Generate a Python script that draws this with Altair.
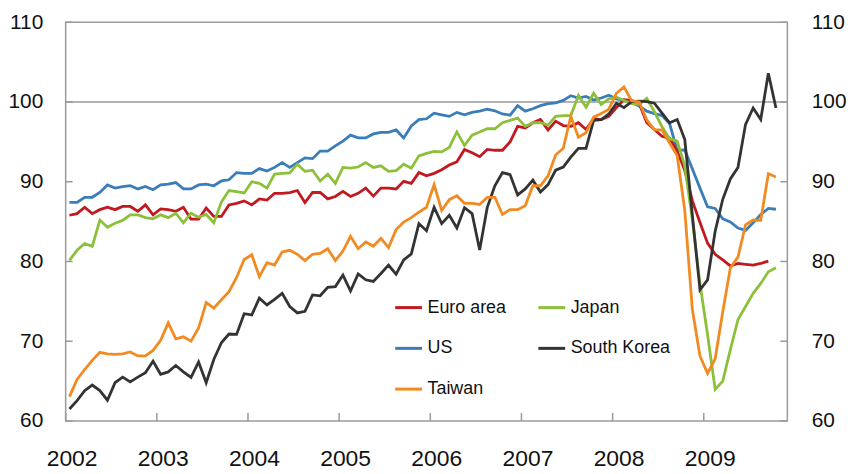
import altair as alt
import pandas as pd

# Monthly index values, Jan 2002 onwards
start_year = 2002

euro = [85.8, 86.0, 86.8, 86.0, 86.5, 86.8, 86.5, 86.9, 86.9, 86.3, 87.1, 85.85,
        86.6, 86.5, 86.3, 86.8, 85.3, 85.3, 86.7, 85.65, 85.65, 87.1, 87.3, 87.6,
        87.1, 87.85, 87.7, 88.55, 88.55, 88.65, 88.9, 87.4, 88.65, 88.65, 87.85, 88.15,
        88.8, 88.15, 88.55, 89.2, 88.2, 89.2, 89.2, 89.1, 90.05, 89.8, 91.15, 90.75,
        91.05, 91.5, 92.1, 92.5, 94.05, 93.65, 93.15, 94.05, 93.95, 93.95, 95.0, 96.95,
        96.75, 97.4, 97.8, 96.5, 97.6, 97.05, 96.95, 97.4, 96.55, 97.9, 97.8, 98.2,
        99.3, 100.3, 100.2, 99.8, 97.4, 96.55, 95.7, 95.45, 93.85, 91.4, 87.6, 84.9,
        82.3, 80.9, 80.2, 79.45, 79.75, 79.65, 79.55, 79.75, 80.05]

japan = [80.15, 81.4, 82.25, 81.9, 85.2, 84.3, 84.8, 85.15, 85.85, 85.85, 85.5, 85.35,
         85.85, 85.5, 86.05, 84.85, 86.05, 85.55, 85.9, 84.85, 87.45, 88.9, 88.75, 88.6,
         90.0, 89.8, 89.2, 90.95, 91.05, 91.1, 92.2, 91.3, 91.45, 90.1, 90.95, 89.8,
         91.8, 91.7, 91.85, 92.4, 91.8, 92.0, 91.3, 91.4, 92.2, 91.7, 93.25, 93.55,
         93.8, 93.75, 94.3, 96.25, 94.55, 95.85, 96.25, 96.65, 96.65, 97.4, 97.7, 98.0,
         96.95, 97.4, 97.4, 97.1, 98.2, 98.3, 98.3, 100.85, 99.35, 101.1, 99.7, 100.4,
         100.6, 100.2, 99.8, 99.7, 100.45, 98.8, 96.9, 95.4, 95.1, 92.0, 85.2, 77.2,
         70.8, 63.95, 65.0, 68.95, 72.7, 74.35, 76.0, 77.25, 78.7, 79.2]

us = [87.4, 87.4, 88.05, 88.05, 88.65, 89.6, 89.2, 89.4, 89.5, 89.1, 89.4, 89.0,
      89.6, 89.7, 89.9, 89.1, 89.1, 89.6, 89.7, 89.5, 90.1, 90.25, 91.15, 91.05,
      91.05, 91.65, 91.35, 91.8, 92.4, 91.8, 92.4, 93.0, 92.9, 93.85, 93.85, 94.5,
      95.1, 95.85, 95.5, 95.5, 96.0, 96.2, 96.2, 96.5, 95.5, 97.0, 97.8, 97.9,
      98.6, 98.4, 98.2, 98.7, 98.4, 98.7, 98.85, 99.1, 98.9, 98.5, 98.35, 99.55,
      98.85, 99.15, 99.55, 99.8, 99.9, 100.2, 100.8, 100.5, 100.7, 100.25, 100.5, 100.85,
      100.4, 100.2, 99.95, 99.5, 98.85, 98.55, 98.3, 97.3, 93.9, 94.0, 91.6, 89.2,
      86.85, 86.65, 85.35, 84.95, 84.2, 83.9, 84.85, 85.9, 86.65, 86.55]

korea = [61.5, 62.55, 63.8, 64.5, 63.8, 62.6, 64.8, 65.5, 64.9, 65.5, 66.05, 67.5,
         65.85, 66.15, 66.95, 66.15, 65.45, 67.4, 64.8, 67.7, 69.8, 70.9, 70.85, 73.45,
         73.3, 75.4, 74.55, 75.25, 76.0, 74.35, 73.55, 73.75, 75.8, 75.7, 76.75, 76.85,
         78.3, 76.3, 78.45, 77.7, 77.5, 78.5, 79.55, 78.4, 80.2, 80.95, 84.75, 83.85,
         86.8, 84.75, 85.8, 84.2, 86.75, 86.0, 81.45, 86.8, 89.5, 91.15, 90.9, 88.35,
         89.1, 90.2, 88.7, 89.65, 91.45, 91.85, 93.1, 94.2, 94.2, 97.7, 97.8, 98.5,
         99.85, 99.3, 100.05, 100.1, 100.05, 99.85, 98.6, 97.4, 97.8, 95.3, 85.8, 76.45,
         77.7, 83.8, 87.8, 90.35, 91.8, 97.2, 99.25, 97.8, 103.6, 99.25]

taiwan = [63.05, 65.2, 66.45, 67.6, 68.6, 68.4, 68.35, 68.4, 68.65, 68.15, 68.15, 68.85,
          70.1, 72.3, 70.3, 70.55, 70.0, 71.65, 74.85, 74.15, 75.2, 76.2, 78.0, 80.25,
          80.85, 78.1, 79.85, 79.55, 81.2, 81.4, 80.9, 80.1, 80.9, 81.0, 81.6, 80.1,
          81.3, 83.15, 81.6, 82.45, 81.9, 82.9, 81.75, 84.0, 84.95, 85.5, 86.2, 86.8,
          89.65, 86.4, 87.75, 88.25, 87.3, 87.3, 87.15, 88.05, 88.05, 85.9, 86.5, 86.5,
          87.0, 89.5, 89.5, 90.75, 93.35, 94.2, 98.2, 95.6, 96.15, 98.1, 98.55, 99.1,
          101.1, 101.9, 100.15, 100.0, 97.75, 96.5, 96.5, 94.85, 93.3, 86.4, 73.95, 68.15,
          65.95, 67.8, 73.7, 79.2, 80.55, 84.6, 85.2, 85.15, 91.0, 90.6]

legend_order = ["Euro area", "Japan", "US", "South Korea", "Taiwan"]
colors = ["#C1191F", "#8CC03A", "#3A7DB8", "#333333", "#F28A22"]
draw_order = ["US", "Euro area", "Japan", "South Korea", "Taiwan"]
series = {"Euro area": euro, "Japan": japan, "US": us,
          "South Korea": korea, "Taiwan": taiwan}

year_ticks = list(range(2002, 2010))
y_ticks = [60, 70, 80, 90, 100, 110]
ref_level = [100]

rows = []
for name in draw_order:
    for m, v in enumerate(series[name]):
        rows.append({"series": name, "t": start_year + (m + 0.5) / 12, "v": v})
df = pd.DataFrame(rows)

W, H = 726, 401
GRAY = "#9a9a9a"
FONT = "Liberation Sans"

xs = alt.Scale(domain=[2002, 2009.917], nice=False, zero=False)
ys = alt.Scale(domain=[60, 110], nice=False, zero=False)

x_axis = alt.Axis(values=year_ticks, format="d", labelFontSize=23,
                  labelPadding=27, tickOffset=6, labelFlush=False,
                  labelOverlap=False, ticks=False, domain=False,
                  grid=False, labelFont=FONT, labelColor="#111")

ref = alt.Chart(pd.DataFrame({"v": ref_level})).mark_rule(
    color=GRAY, strokeWidth=1.5
).encode(y=alt.Y("v:Q", scale=ys, axis=None))

lines = alt.Chart(df).mark_line(strokeWidth=2.8).encode(
    x=alt.X("t:Q", scale=xs, title=None, axis=x_axis),
    y=alt.Y("v:Q", scale=ys, title=None,
            axis=alt.Axis(values=y_ticks, orient="left", labelFontSize=21,
                          labelPadding=23, labelFlush=False, ticks=False,
                          domain=False, grid=False, labelFont=FONT,
                          labelColor="#111")),
    color=alt.Color("series:N",
                    scale=alt.Scale(domain=legend_order, range=colors),
                    legend=alt.Legend(title=None, orient="none", columns=2,
                                      direction="horizontal",
                                      legendX=330, legendY=272, padding=0,
                                      symbolType="stroke", symbolSize=729,
                                      symbolStrokeWidth=3, labelFontSize=18,
                                      labelFont=FONT, labelColor="#111",
                                      labelOffset=4, rowPadding=17,
                                      columnPadding=25)),
)

ticks_df = pd.DataFrame({"v": y_ticks})
left_ticks = alt.Chart(ticks_df).mark_rule(color=GRAY, strokeWidth=1.5).encode(
    y=alt.Y("v:Q", scale=ys, axis=None), x=alt.value(0), x2=alt.value(7))
right_ticks = alt.Chart(ticks_df).mark_rule(color=GRAY, strokeWidth=1.5).encode(
    y=alt.Y("v:Q", scale=ys, title=None,
            axis=alt.Axis(values=y_ticks, orient="right", labelFontSize=21,
                          labelPadding=24, labelFlush=False, ticks=False,
                          domain=False, grid=False, labelFont=FONT,
                          labelColor="#111")),
    x=alt.value(W - 7), x2=alt.value(W))
x_ticks = alt.Chart(pd.DataFrame({"t": year_ticks})).mark_rule(
    color=GRAY, strokeWidth=1.5).encode(
    x=alt.X("t:Q", scale=xs, title=None, axis=x_axis),
    y=alt.value(H), y2=alt.value(H - 8))

chart = alt.layer(ref, left_ticks, x_ticks, right_ticks, lines).resolve_scale(
    y="independent"
).properties(
    width=W, height=H,
    autosize=alt.AutoSizeParams(type="none"),
    padding={"left": 58, "top": 13, "right": 62, "bottom": 52},
).configure_view(stroke=GRAY, strokeWidth=1.5)

chart.save("out.html", embed_options={"renderer": "svg", "actions": False})
